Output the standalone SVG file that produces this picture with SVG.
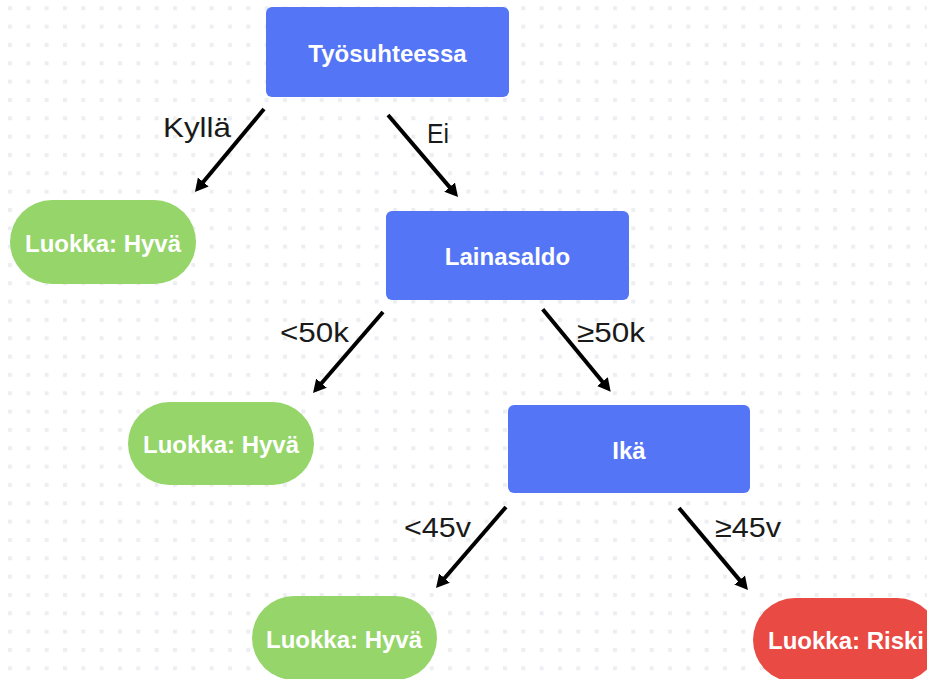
<svg xmlns="http://www.w3.org/2000/svg" width="927" height="679" viewBox="0 0 927 679">
<defs>
<pattern id="dots" x="8" y="6.3" width="18.333" height="18.333" patternUnits="userSpaceOnUse"><rect width="4" height="4" fill="#eceef2"/></pattern>
<marker id="arr" markerUnits="userSpaceOnUse" markerWidth="16" markerHeight="16" refX="2" refY="7" orient="auto"><path d="M0,0 L13,7 L0,14 Z" fill="#000"/></marker>
<style>
.dec rect{fill:#5475f5}
.good rect{fill:#95d56a}
.risk rect{fill:#e94a43}
.nt{font-family:"Liberation Sans",Arial,sans-serif;font-weight:bold;font-size:24px;fill:#fff;text-anchor:middle}
.el{font-family:"Liberation Sans",Arial,sans-serif;font-size:28.5px;fill:#1a1a1a}
#edges line{stroke:#000;stroke-width:4;marker-end:url(#arr)}
</style>
</defs>
<rect width="927" height="679" fill="#fff"/>
<rect width="927" height="679" fill="url(#dots)"/>
<g id="edges">
<line x1="264" y1="109" x2="202" y2="183.5"/>
<line x1="388" y1="115" x2="450.9" y2="188.6"/>
<line x1="383" y1="312" x2="320.2" y2="384.7"/>
<line x1="542.7" y1="309.3" x2="603.7" y2="383.2"/>
<line x1="506" y1="507" x2="443.2" y2="579.7"/>
<line x1="679" y1="508" x2="740.9" y2="581.6"/>
<text class="el" x="163" y="137" textLength="68" lengthAdjust="spacingAndGlyphs">Kyllä</text>
<text class="el" x="427" y="143" textLength="22" lengthAdjust="spacingAndGlyphs">Ei</text>
<text class="el" x="280" y="342" textLength="69" lengthAdjust="spacingAndGlyphs">&lt;50k</text>
<text class="el" x="577" y="342" textLength="68" lengthAdjust="spacingAndGlyphs">≥50k</text>
<text class="el" x="404" y="537" textLength="67" lengthAdjust="spacingAndGlyphs">&lt;45v</text>
<text class="el" x="715" y="537" textLength="66" lengthAdjust="spacingAndGlyphs">≥45v</text>
</g>
<g id="n-tyosuhteessa" class="dec"><rect x="266" y="7" width="243" height="90" rx="6"/><text class="nt" x="387.5" y="62">Työsuhteessa</text></g>
<g id="n-lainasaldo" class="dec"><rect x="386" y="211" width="243" height="89" rx="6"/><text class="nt" x="507.5" y="265">Lainasaldo</text></g>
<g id="n-ika" class="dec"><rect x="508" y="405" width="242" height="88" rx="6"/><text class="nt" x="629" y="459">Ikä</text></g>
<g id="n-hyva1" class="good"><rect x="10" y="200" width="186" height="84" rx="42"/><text class="nt" x="103" y="252">Luokka: Hyvä</text></g>
<g id="n-hyva2" class="good"><rect x="128" y="402" width="186" height="83" rx="41.5"/><text class="nt" x="221" y="453">Luokka: Hyvä</text></g>
<g id="n-hyva3" class="good"><rect x="252" y="596" width="185" height="84" rx="42"/><text class="nt" x="344" y="648">Luokka: Hyvä</text></g>
<g id="n-riski" class="risk"><rect x="753" y="598" width="186" height="84" rx="42"/><text class="nt" x="846" y="649">Luokka: Riski</text></g>
</svg>
